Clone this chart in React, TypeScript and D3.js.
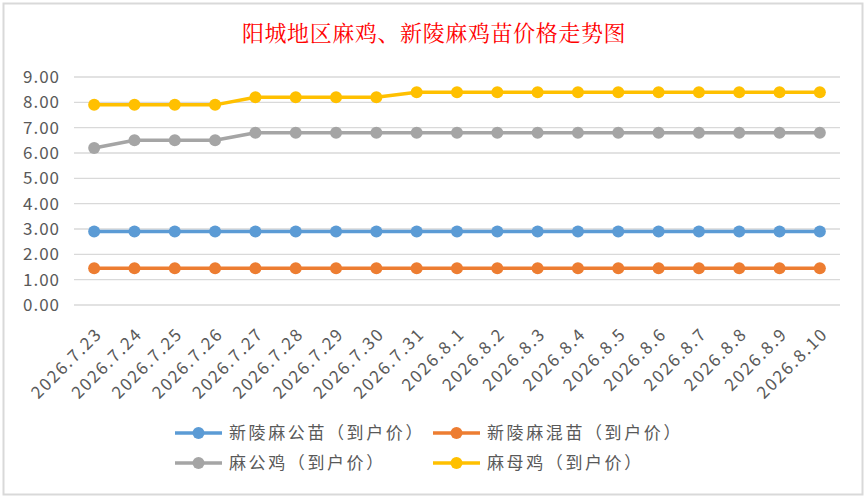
import * as d3 from 'd3';
import React, { FC, useEffect, useRef } from 'react';

const categories = [
	'2026.7.23', '2026.7.24', '2026.7.25', '2026.7.26', '2026.7.27', '2026.7.28', '2026.7.29',
	'2026.7.30', '2026.7.31', '2026.8.1', '2026.8.2', '2026.8.3', '2026.8.4', '2026.8.5',
	'2026.8.6', '2026.8.7', '2026.8.8', '2026.8.9', '2026.8.10',
];
const gongMiao = [2.9, 2.9, 2.9, 2.9, 2.9, 2.9, 2.9, 2.9, 2.9, 2.9, 2.9, 2.9, 2.9, 2.9, 2.9, 2.9, 2.9, 2.9, 2.9];
const hunMiao = [1.45, 1.45, 1.45, 1.45, 1.45, 1.45, 1.45, 1.45, 1.45, 1.45, 1.45, 1.45, 1.45, 1.45, 1.45, 1.45, 1.45, 1.45, 1.45];
const gongJi = [6.2, 6.5, 6.5, 6.5, 6.8, 6.8, 6.8, 6.8, 6.8, 6.8, 6.8, 6.8, 6.8, 6.8, 6.8, 6.8, 6.8, 6.8, 6.8];
const muJi = [7.9, 7.9, 7.9, 7.9, 8.2, 8.2, 8.2, 8.2, 8.4, 8.4, 8.4, 8.4, 8.4, 8.4, 8.4, 8.4, 8.4, 8.4, 8.4];
const yTicks = [0, 1, 2, 3, 4, 5, 6, 7, 8, 9];

const series = [
	{ name: '新陵麻公苗（到户价）', values: gongMiao, color: '#5b9bd5' },
	{ name: '新陵麻混苗（到户价）', values: hunMiao, color: '#ed7d31' },
	{ name: '麻公鸡（到户价）', values: gongJi, color: '#a5a5a5' },
	{ name: '麻母鸡（到户价）', values: muJi, color: '#ffc000' },
];

const App: FC = () => {
	const ref = useRef<SVGSVGElement>(null);
	const width = 868;
	const height = 500;
	const margin = { top: 77, right: 28, bottom: 195, left: 74 };
	const font = '"Noto Sans CJK SC", "Noto Sans", sans-serif';

	useEffect(() => {
		const svg = d3.select(ref.current);
		svg.selectAll('*').remove();

		svg.append('rect')
			.attr('width', width)
			.attr('height', height)
			.attr('fill', '#fff');
		svg.append('rect')
			.attr('x', 3.5)
			.attr('y', 3.5)
			.attr('width', 859)
			.attr('height', 491)
			.attr('fill', '#fff')
			.attr('stroke', '#d9d9d9')
			.attr('stroke-width', 2);

		const x: any = d3
			.scaleBand()
			.domain(categories)
			.range([margin.left, width - margin.right]);
		const y = d3
			.scaleLinear()
			.domain([0, 9])
			.range([height - margin.bottom, margin.top]);
		const cx = (d: string) => x(d) + x.bandwidth() / 2;

		// title
		svg.append('text')
			.attr('x', 434)
			.attr('y', 41)
			.attr('text-anchor', 'middle')
			.attr('fill', '#ff0000')
			.attr('font-family', '"Noto Serif CJK SC", "Noto Sans CJK SC", serif')
			.attr('font-size', 22)
			.attr('letter-spacing', 0.6)
			.text('阳城地区麻鸡、新陵麻鸡苗价格走势图');

		// grid
		svg.append('g')
			.selectAll('line')
			.data(yTicks)
			.join('line')
			.attr('x1', margin.left)
			.attr('x2', width - margin.right)
			.attr('y1', d => y(d))
			.attr('y2', d => y(d))
			.attr('stroke', '#d9d9d9')
			.attr('stroke-width', 1.3);

		svg.append('g')
			.selectAll('text')
			.data(yTicks)
			.join('text')
			.attr('x', 60)
			.attr('y', d => y(d))
			.attr('dy', '0.35em')
			.attr('text-anchor', 'end')
			.attr('fill', '#595959')
			.attr('font-family', font)
			.attr('font-size', 17)
			.attr('letter-spacing', 1)
			.text(d => d.toFixed(2));

		svg.append('g')
			.selectAll('text')
			.data(categories)
			.join('text')
			.attr('transform', d => `translate(${cx(d) + 9},${y(0) + 30}) rotate(-45)`)
			.attr('text-anchor', 'end')
			.attr('fill', '#595959')
			.attr('font-family', font)
			.attr('font-size', 17)
			.attr('letter-spacing', 1.8)
			.text(d => d);

		const line = d3
			.line<number>()
			.x((d, i) => cx(categories[i]))
			.y(d => y(d));

		series.forEach(s => {
			const g = svg.append('g');
			g.append('path')
				.attr('d', line(s.values) as string)
				.attr('fill', 'none')
				.attr('stroke', s.color)
				.attr('stroke-width', 3.5)
				.attr('stroke-linejoin', 'round');
			g.selectAll('circle')
				.data(s.values)
				.join('circle')
				.attr('cx', (d, i) => cx(categories[i]))
				.attr('cy', d => y(d))
				.attr('r', 6)
				.attr('fill', s.color);
		});

		// legend
		const legend = svg.append('g');
		series.forEach((s, i) => {
			const lx = i % 2 === 0 ? 175 : 433;
			const ly = i < 2 ? 433 : 463;
			const item = legend.append('g').attr('transform', `translate(${lx},${ly})`);
			item.append('line')
				.attr('x1', 0)
				.attr('x2', 47)
				.attr('stroke', s.color)
				.attr('stroke-width', 3.5);
			item.append('circle').attr('cx', 23.5).attr('r', 6).attr('fill', s.color);
			item.append('text')
				.attr('x', 54)
				.attr('dy', '0.35em')
				.attr('fill', '#595959')
				.attr('font-family', font)
				.attr('font-size', 17)
				.attr('letter-spacing', 2.6)
				.text(s.name);
		});
	}, []);

	return (
		<svg
			ref={ref}
			width={width}
			height={height}
			style={{ position: 'absolute', left: 0, top: 0 }}
		></svg>
	);
};

export default App;
